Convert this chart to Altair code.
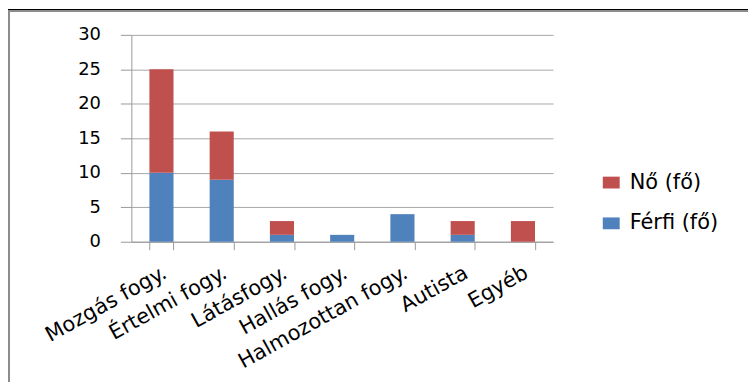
import altair as alt
import pandas as pd

categories = ["Mozgás fogy.", "Értelmi fogy.", "Látásfogy.", "Hallás fogy.",
              "Halmozottan fogy.", "Autista", "Egyéb"]
ferfi = [10, 9, 1, 1, 4, 1, 0]
no = [15, 7, 2, 0, 0, 2, 3]
series = ["Nő (fő)", "Férfi (fő)"]
colors = ["#C0504D", "#4F81BD"]
y_ticks = [0, 5, 10, 15, 20, 25, 30]

rows = []
for c, f, n in zip(categories, ferfi, no):
    rows.append({"cat": c, "series": "Férfi (fő)", "value": f, "ord": 0})
    rows.append({"cat": c, "series": "Nő (fő)", "value": n, "ord": 1})
df = pd.DataFrame(rows)

FONT = "DejaVu Sans"

bars = alt.Chart(df).mark_bar().encode(
    x=alt.X("cat:N", sort=categories, title=None,
            scale=alt.Scale(paddingInner=0.6, paddingOuter=0.3),
            axis=alt.Axis(labelAngle=-29, labelFontSize=21, labelFont=FONT,
                          labelColor="#000000", tickBand="extent", tickSize=8,
                          tickColor="#999999", domainColor="#999999",
                          labelPadding=12, labelOffset=-2, labelLimit=400, grid=False)),
    y=alt.Y("value:Q", title=None, stack="zero",
            scale=alt.Scale(domain=[0, 30], nice=False),
            axis=alt.Axis(values=y_ticks, labelFontSize=18, labelFont=FONT,
                          labelColor="#000000", tickSize=11, tickColor="#999999",
                          domainColor="#999999", gridColor="#A6A6A6",
                          labelPadding=20)),
    color=alt.Color("series:N", scale=alt.Scale(domain=series, range=colors),
                    legend=alt.Legend(title=None, orient="none", legendX=472, legendY=138,
                                      symbolType="M-1,-0.7H1V0.7H-1Z", symbolSize=289,
                                      symbolStrokeWidth=0, labelFontSize=21, labelFont=FONT,
                                      labelColor="#000000", rowPadding=19, labelOffset=8)),
    order=alt.Order("ord:Q"),
)

frame_left = alt.Chart(df).mark_rule(color="#8C8C8C", strokeWidth=2).encode(
    x=alt.value(-123), y=alt.value(-25), y2=alt.value(370))
frame_top = alt.Chart(df).mark_rule(color="#8C8C8C", strokeWidth=2).encode(
    x=alt.value(-124), x2=alt.value(640), y=alt.value(-24))
table_top = alt.Chart(df).mark_rule(color="#000000", strokeWidth=1).encode(
    x=alt.value(-124), x2=alt.value(640), y=alt.value(-25.5))

chart = alt.layer(bars, frame_left, frame_top, table_top).properties(
    width=424, height=208,
    autosize=alt.AutoSizeParams(type="none"),
    padding={"left": 124, "top": 26, "right": 196, "bottom": 140},
).configure_view(stroke=None).configure_axis(gridWidth=1, domainWidth=1)

chart.save("out.html", embed_options={"renderer": "svg", "actions": False})
